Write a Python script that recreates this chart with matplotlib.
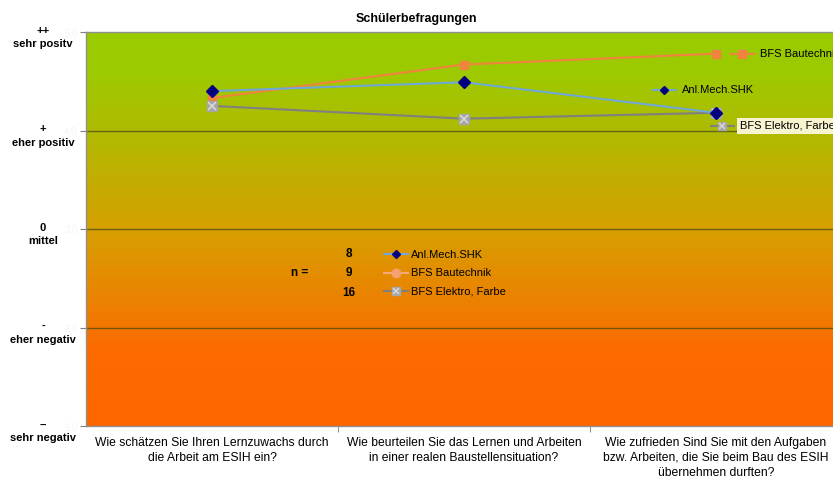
import matplotlib
matplotlib.use("Agg")
import matplotlib.pyplot as plt
import numpy as np
from matplotlib.colors import LinearSegmentedColormap
from matplotlib.lines import Line2D
from matplotlib.legend_handler import HandlerTuple
from matplotlib.transforms import blended_transform_factory, offset_copy

plt.rcParams['font.family'] = ['Liberation Sans', 'DejaVu Sans']

# data
questions = ['Wie schätzen Sie Ihren Lernzuwachs durch\ndie Arbeit am ESIH ein?',
             'Wie beurteilen Sie das Lernen und Arbeiten\nin einer realen Baustellensituation?',
             'Wie zufrieden Sind Sie mit den Aufgaben\nbzw. Arbeiten, die Sie beim Bau des ESIH\nübernehmen durften?']
anl_mech = [4.40, 4.49, 4.18]
bfs_bau = [4.33, 4.67, 4.78]
bfs_elektro = [4.25, 4.12, 4.18]
series_names = ['Anl.Mech.SHK', 'BFS Bautechnik', 'BFS Elektro, Farbe']
n_counts = [8, 9, 16]
level_values = [5, 4, 3, 2, 1]
level_labels = ['++\nsehr positv', '+\neher positiv', '0\nmittel', '-\neher negativ', '--\nsehr negativ']

fig = plt.figure(figsize=(8.33, 4.79), dpi=100)
ax = fig.add_axes([86 / 833, 1 - 426 / 479, 756 / 833, 394 / 479])
x = np.arange(len(questions))
ax.set_xlim(-0.5, 2.5)
ax.set_ylim(1, 5)

# background gradient (orange bottom -> green top)
cmap = LinearSegmentedColormap.from_list('bg', [
    (0.0, '#ff6600'), (0.2, '#fc6b00'), (0.25, '#f47600'), (0.5, '#d6a000'),
    (0.75, '#afbb00'), (0.9, '#9dca00'), (1.0, '#99cc00')])
grad = np.linspace(0, 1, 256).reshape(-1, 1)
ax.imshow(grad, aspect='auto', cmap=cmap, origin='lower', extent=(-0.5, 2.5, 1, 5), zorder=0)

for v in [2, 3, 4]:
    ax.axhline(v, color='#4a4a10', alpha=0.75, lw=1, zorder=1)

# series
ax.plot(x, anl_mech, color='#6fa8d6', lw=1.5, marker='D', ms=6, mfc='#000080', mec='#000080', zorder=4)
ax.plot(x, bfs_bau, color='#f0843e', lw=1.5, marker='s', ms=6, mfc='#f0843e', mec='#f0843e', zorder=3)
ax.plot(x, bfs_elektro, color='#808080', lw=1.5, marker='s', ms=7, mfc='#a6a6a6', mec='#a6a6a6', zorder=3)
ax.plot(x, bfs_elektro, ls='none', marker='x', ms=6, mec='#d8d8d8', mew=1.2, zorder=3)


def end_label(xv, yv, dx, dy, text, color, marker, mfc, ms, box=None):
    tr = offset_copy(ax.transData, fig=fig, x=dx, y=dy, units='dots')
    ax.plot([xv], [yv], transform=tr, marker='_', ms=18, mew=1.5, color=color, zorder=5, clip_on=False)
    ax.plot([xv], [yv], transform=tr, marker=marker, ms=ms, mfc=mfc, mec=mfc, ls='none', zorder=6,
            clip_on=False)
    if marker == 's' and mfc == '#a6a6a6':
        ax.plot([xv], [yv], transform=tr, marker='x', ms=5, mec='#d8d8d8', mew=1.1, ls='none', zorder=6,
                clip_on=False)
    ax.annotate(text, (xv, yv), xytext=(dx + 18, dy), textcoords='offset pixels', va='center',
                fontsize=8, color='black', bbox=box, zorder=6, annotation_clip=False)


end_label(2, bfs_bau[2], 26, 0, series_names[1], '#f0843e', 's', '#f0843e', 6)
end_label(2, anl_mech[2], -52, 23, series_names[0], '#6fa8d6', 'D', '#000080', 4)
end_label(2, bfs_elektro[2], 6, -13, series_names[2], '#808080', 's', '#a6a6a6', 6,
          box=dict(boxstyle='square,pad=0.25', fc='#f7f4cf', ec='none'))

# legend with counts
h1 = Line2D([], [], color='#6fa8d6', lw=1.5, marker='D', ms=4, mfc='#000080', mec='#000080')
h2 = Line2D([], [], color='#f7a878', lw=1.5, marker='o', ms=6, mfc='#f7a070', mec='#f7a070')
h3a = Line2D([], [], color='#808080', lw=1.5, marker='s', ms=6, mfc='#a6a6a6', mec='#a6a6a6')
h3b = Line2D([], [], ls='none', marker='x', ms=5, mec='#d8d8d8', mew=1.1)
leg = ax.legend([h1, h2, (h3a, h3b)], series_names, handler_map={tuple: HandlerTuple(ndivide=1, pad=0)},
                loc='center left', bbox_to_anchor=(374 / 833, 1 - 273.5 / 479), bbox_transform=fig.transFigure,
                frameon=False, fontsize=8, handlelength=2.2, handletextpad=0.2, labelspacing=0.75)
leg.set_zorder(7)
for i, n in enumerate(n_counts):
    fig.text(349 / 833, 1 - (254 + i * 19.5) / 479, str(n), ha='center', va='center', fontsize=8.5,
             fontweight='bold')
fig.text(300 / 833, 1 - 273 / 479, 'n =', ha='center', va='center', fontsize=8.5, fontweight='bold')

# axes styling
ax.set_xticks(x)
ax.set_xticklabels(questions, fontsize=8.7, linespacing=1.3)
ax.tick_params(axis='x', length=0, pad=8)
ax.set_xticks([0.5, 1.5], minor=True)
ax.tick_params(axis='x', which='minor', length=4, color='#808080')
ax.set_yticks(level_values)
ax.set_yticklabels([('%.1f' % v).replace('.', ',') for v in level_values], fontsize=7, color='#f4f4f4')
ax.tick_params(axis='y', length=4, color='#808080', pad=2)
for s in ax.spines.values():
    s.set_color('#909090')
    s.set_linewidth(1)

tr = blended_transform_factory(fig.transFigure, ax.transData)
for v, lab in zip(level_values, level_labels):
    ax.text(43 / 833, v + 0.065, lab, transform=tr, ha='center', va='top', fontsize=8, fontweight='bold',
            linespacing=1.45)

fig.text(416 / 833, 1 - 19 / 479, 'Schülerbefragungen', ha='center', va='center', fontsize=9,
         fontweight='bold')

fig.savefig('out.png', dpi=100)
